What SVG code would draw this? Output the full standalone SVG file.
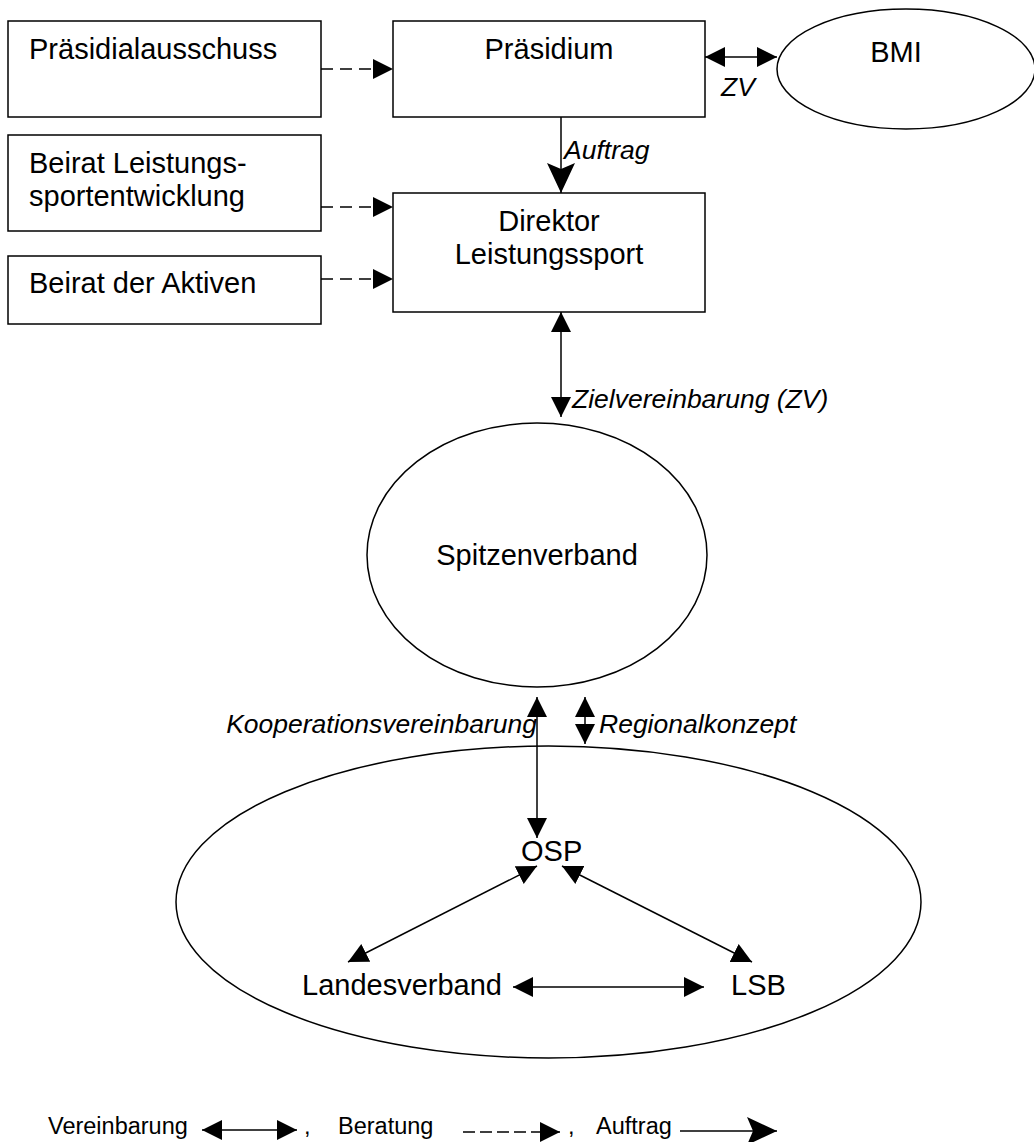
<svg xmlns="http://www.w3.org/2000/svg" width="1034" height="1142" viewBox="0 0 1034 1142">
<style>
.box{fill:#fff;stroke:#000;stroke-width:1.5}
.ell{fill:none;stroke:#000;stroke-width:1.5}
.t{font-family:"Liberation Sans",Arial,sans-serif;font-size:29px;fill:#000}
.c{text-anchor:middle}
.i{font-family:"Liberation Sans",Arial,sans-serif;font-size:26.5px;font-style:italic;fill:#000}
.lg{font-family:"Liberation Sans",Arial,sans-serif;font-size:23.5px;fill:#000}
.ln{fill:none;stroke:#000;stroke-width:1.5}
.dash{stroke-dasharray:12 7}
.dash2{stroke-dasharray:12 5}
</style>
<defs>
<marker id="h" markerUnits="userSpaceOnUse" markerWidth="20" markerHeight="20" refX="20" refY="10" orient="auto-start-reverse" viewBox="0 0 20 20">
<path d="M0,0 L20,10 L0,20 Z" fill="#000"/>
</marker>
<marker id="hb" markerUnits="userSpaceOnUse" markerWidth="30" markerHeight="28" refX="30" refY="14" orient="auto" viewBox="0 0 30 28">
<path d="M0,0 L30,14 L0,28 L6,14 Z" fill="#000"/>
</marker>
</defs>

<g id="n-praesidialausschuss">
<rect class="box" x="8" y="21" width="313" height="96"/>
<text class="t" x="29" y="59">Präsidialausschuss</text>
</g>
<g id="n-praesidium">
<rect class="box" x="393" y="21" width="312" height="96"/>
<text class="t c" x="549" y="59">Präsidium</text>
</g>
<g id="n-bmi">
<ellipse class="ell" cx="906" cy="69" rx="129" ry="60"/>
<text class="t c" x="896" y="62">BMI</text>
</g>
<g id="n-beirat-leistung">
<rect class="box" x="8" y="135" width="313" height="96"/>
<text class="t" x="29" y="173">Beirat Leistungs-</text>
<text class="t" x="29" y="206">sportentwicklung</text>
</g>
<g id="n-beirat-aktiven">
<rect class="box" x="8" y="256" width="313" height="68"/>
<text class="t" x="29" y="293">Beirat der Aktiven</text>
</g>
<g id="n-direktor">
<rect class="box" x="393" y="193" width="312" height="119"/>
<text class="t c" x="549" y="231">Direktor</text>
<text class="t c" x="549" y="264">Leistungssport</text>
</g>
<g id="n-spitzenverband">
<ellipse class="ell" cx="537" cy="555" rx="170" ry="132"/>
<text class="t c" x="537" y="565">Spitzenverband</text>
</g>
<g id="n-region">
<ellipse class="ell" cx="548.5" cy="902" rx="372.5" ry="156"/>
</g>
<g id="n-osp">
<text class="t" x="521" y="861">OSP</text>
</g>
<g id="n-landesverband">
<text class="t" x="302" y="995">Landesverband</text>
</g>
<g id="n-lsb">
<text class="t" x="731" y="995">LSB</text>
</g>

<g id="connectors">
<line class="ln dash" x1="321" y1="69" x2="393" y2="69" marker-end="url(#h)"/>
<line class="ln dash" x1="321" y1="207" x2="393" y2="207" marker-end="url(#h)"/>
<line class="ln dash" x1="321" y1="279" x2="393" y2="279" marker-end="url(#h)"/>
<line class="ln" x1="705" y1="57" x2="777" y2="57" marker-start="url(#h)" marker-end="url(#h)"/>
<text class="i" x="721" y="96">ZV</text>
<line class="ln" x1="561" y1="117" x2="561" y2="193" marker-end="url(#hb)"/>
<text class="i" x="564" y="159">Auftrag</text>
<line class="ln" x1="561" y1="312" x2="561" y2="417" marker-start="url(#h)" marker-end="url(#h)"/>
<text class="i" x="572" y="408">Zielvereinbarung (ZV)</text>
<line class="ln" x1="537" y1="697" x2="537" y2="838" marker-start="url(#h)" marker-end="url(#h)"/>
<text class="i" x="537" y="733" text-anchor="end">Kooperationsvereinbarung</text>
<line class="ln" x1="585" y1="697" x2="585" y2="744" marker-start="url(#h)" marker-end="url(#h)"/>
<text class="i" x="599" y="733">Regionalkonzept</text>
<line class="ln" x1="537" y1="866" x2="348" y2="962" marker-start="url(#h)" marker-end="url(#h)"/>
<line class="ln" x1="562" y1="866" x2="752" y2="962" marker-start="url(#h)" marker-end="url(#h)"/>
<line class="ln" x1="513" y1="987" x2="704" y2="987" marker-start="url(#h)" marker-end="url(#h)"/>
</g>

<g id="legend">
<text class="lg" x="48" y="1134">Vereinbarung</text>
<line class="ln" x1="202" y1="1130" x2="297" y2="1130" marker-start="url(#h)" marker-end="url(#h)"/>
<text class="lg" x="304" y="1134">,</text>
<text class="lg" x="338" y="1134">Beratung</text>
<line class="ln dash2" x1="463" y1="1132" x2="560" y2="1132" marker-end="url(#h)"/>
<text class="lg" x="568" y="1134">,</text>
<text class="lg" x="596" y="1134">Auftrag</text>
<line class="ln" x1="680" y1="1131" x2="777" y2="1131" marker-end="url(#hb)"/>
</g>
</svg>
